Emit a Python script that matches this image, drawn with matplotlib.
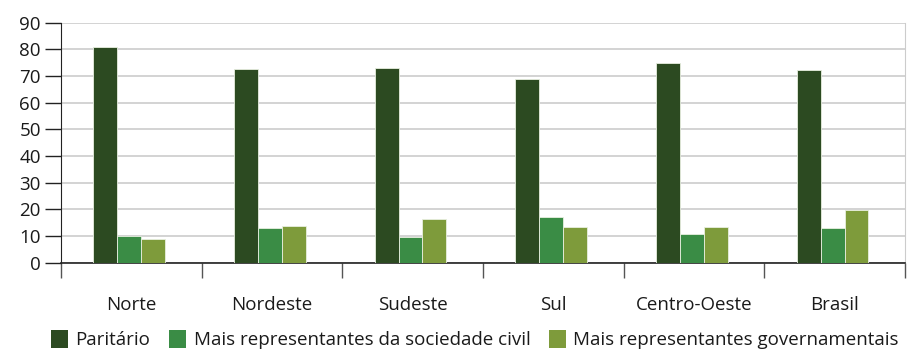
import numpy as np
import matplotlib.pyplot as plt
from matplotlib.patches import Patch

plt.rcParams['font.family'] = ['Open Sans', 'DejaVu Sans']

regioes = ['Norte', 'Nordeste', 'Sudeste', 'Sul', 'Centro-Oeste', 'Brasil']
paritario = [81, 72.5, 73, 69, 75, 72.4]
sociedade_civil = [10, 13, 9.6, 17.2, 11, 12.9]
governamentais = [8.9, 14, 16.6, 13.4, 13.3, 19.9]

series = ['Paritário', 'Mais representantes da sociedade civil',
          'Mais representantes governamentais']
cores = ['#2c4a21', '#3a8c45', '#7e9b3b']

fig = plt.figure(figsize=(9.1, 3.5), dpi=100)
ax = fig.add_axes([0.067, 0.249, 0.9275, 0.686])

x = np.arange(len(regioes))
w = 0.17
for k, (vals, cor) in enumerate(zip([paritario, sociedade_civil, governamentais], cores)):
    ax.bar(x + (k - 1) * w - 0.015, vals, w, color=cor, edgecolor='#e8efe0',
           linewidth=0.6, zorder=3)

ax.set_xlim(-0.5, len(regioes) - 0.5)
ax.set_ylim(0, 90)
ax.set_yticks(range(0, 91, 10))
ax.yaxis.grid(True, color='#cccccc', linewidth=1.2, zorder=0)

# ticks at group boundaries, labels at group centres
ax.set_xticks(np.arange(-0.5, len(regioes), 1))
ax.set_xticklabels([])
ax.set_xticks(x, minor=True)
ax.set_xticklabels(regioes, minor=True)
ax.tick_params(axis='x', which='major', direction='out', length=11, width=1,
               color='#555555')
ax.tick_params(axis='x', which='minor', length=0, pad=24, labelsize=13.5,
               labelcolor='#1a1a1a')
ax.tick_params(axis='y', direction='out', length=11.5, width=1, color='#222222',
               labelsize=13.5, labelcolor='#1a1a1a', pad=3)

ax.spines['top'].set_visible(False)
ax.spines['right'].set_color('#cccccc')
ax.spines['left'].set_color('#222222')
ax.spines['bottom'].set_color('#222222')
ax.spines['bottom'].set_linewidth(1.2)

handles = [Patch(facecolor=c, edgecolor='none') for c in cores]
fig.legend(handles, series, loc='lower center', bbox_to_anchor=(0.522, -0.045),
           ncol=3, frameon=False, fontsize=13.5, handlelength=0.9,
           handleheight=1.1, handletextpad=0.4, columnspacing=1.0,
           labelcolor='#1a1a1a')

fig.savefig('out.png', dpi=100)
